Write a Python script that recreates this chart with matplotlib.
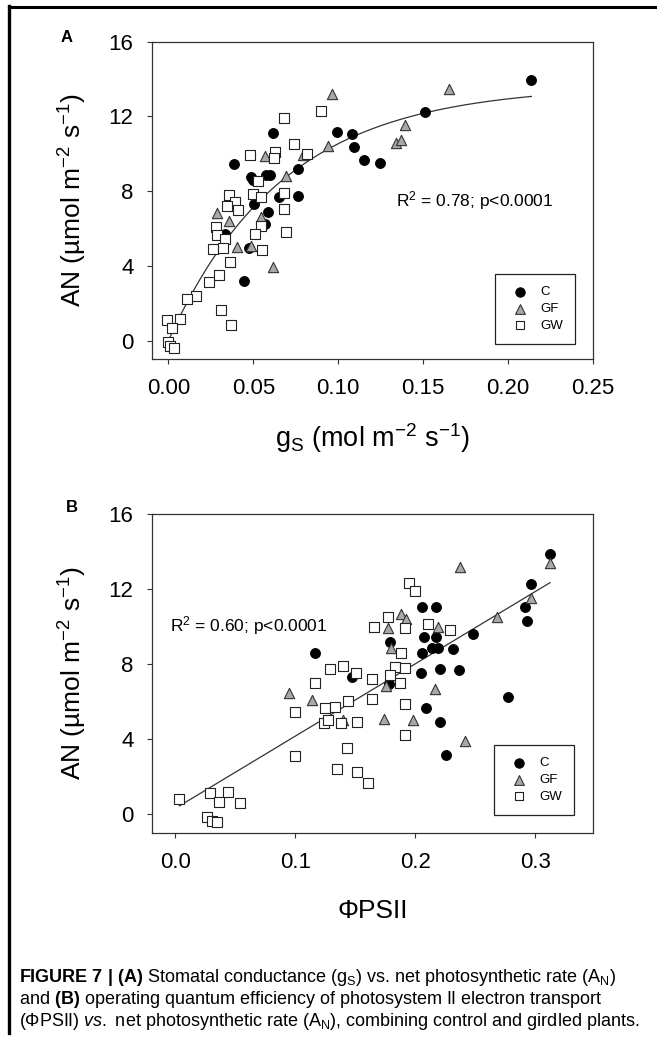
import matplotlib as mpl
mpl.use("Agg")
import matplotlib.pyplot as plt
from matplotlib.lines import Line2D
import numpy as np

mpl.rcParams.update({
    "font.family": ["Liberation Sans", "DejaVu Sans"],
    "mathtext.fontset": "custom",
    "mathtext.rm": "Liberation Sans",
    "mathtext.it": "Liberation Sans:italic",
    "mathtext.bf": "Liberation Sans:bold",
    "mathtext.default": "rm",
})

# ---- Panel A data: gs vs AN ----
gs_c = [0.0388, 0.0613, 0.0485, 0.0500, 0.0575, 0.0600, 0.0760, 0.0760, 0.0650, 0.0504,
        0.0588, 0.0569, 0.0333, 0.0476, 0.0445, 0.0995, 0.1080, 0.1090, 0.1150, 0.1245,
        0.1513, 0.2137]
an_c = [9.45, 11.10, 8.75, 8.60, 8.85, 8.85, 9.20, 7.76, 7.70, 7.30,
        6.90, 6.25, 5.70, 4.95, 3.17, 11.15, 11.08, 10.35, 9.67, 9.50,
        12.25, 13.94]

gs_gf = [0.0961, 0.0567, 0.0790, 0.0937, 0.0692, 0.0288, 0.0355, 0.0547, 0.0402, 0.0486,
         0.0614, 0.1340, 0.1370, 0.1390, 0.1653]
an_gf = [13.20, 9.90, 9.92, 10.40, 8.82, 6.85, 6.42, 6.64, 5.04, 5.09,
         3.93, 10.60, 10.75, 11.55, 13.46]

gs_gw = [0.0680, 0.0898, 0.0480, 0.0627, 0.0623, 0.0739, 0.0814, 0.0525, 0.0355, 0.0499,
         0.0545, 0.0392, 0.0343, 0.0407, 0.0680, 0.0680, 0.0690, 0.0280, 0.0284, 0.0333,
         0.0260, 0.0320, 0.0543, 0.0507, 0.0551, 0.0362, 0.0300, 0.0237, 0.0164, 0.0111,
         0.0307, 0.0368, -0.0010, 0.0068, 0.0020, 0.0000, 0.0010, 0.0034]
an_gw = [11.92, 12.30, 9.93, 10.10, 9.77, 10.52, 10.00, 8.56, 7.80, 7.85,
         7.70, 7.44, 7.20, 7.00, 7.90, 7.05, 5.84, 6.07, 5.68, 5.45,
         4.91, 4.95, 6.12, 5.71, 4.86, 4.20, 3.54, 3.13, 2.38, 2.24,
         1.67, 0.82, 1.09, 1.14, 0.68, -0.04, -0.30, -0.40]

# ---- Panel B data: PhiPSII vs AN ----
phi_c = [0.3120, 0.2965, 0.2910, 0.2930, 0.2480, 0.2054, 0.2170, 0.2070, 0.2170, 0.2140,
         0.2187, 0.2054, 0.2310, 0.2360, 0.2204, 0.2047, 0.1786, 0.1168, 0.1472, 0.1780,
         0.2773, 0.2093, 0.2204, 0.2257]
an_c_b = [13.89, 12.26, 11.07, 10.30, 9.61, 11.07, 11.03, 9.47, 9.47, 8.85,
          8.88, 8.61, 8.79, 7.69, 7.74, 7.51, 9.20, 8.61, 7.30, 6.93,
          6.23, 5.65, 4.90, 3.16]

phi_gf = [0.3122, 0.2370, 0.2965, 0.2680, 0.1880, 0.1920, 0.1775, 0.2187, 0.1796, 0.1758,
          0.2160, 0.0949, 0.1140, 0.1740, 0.1980, 0.1395, 0.2414]
an_gf_b = [13.37, 13.20, 11.50, 10.53, 10.67, 10.39, 9.95, 9.96, 8.85, 6.84,
           6.66, 6.45, 6.09, 5.08, 5.03, 5.02, 3.93]

phi_gw = [0.1950, 0.1995, 0.1775, 0.1657, 0.1915, 0.2107, 0.2285, 0.1880, 0.1828, 0.1915,
          0.1786, 0.1873, 0.1640, 0.1636, 0.1915, 0.1918, 0.1290, 0.1395, 0.1507, 0.1168,
          0.1437, 0.1252, 0.1332, 0.1001, 0.1238, 0.1270, 0.1385, 0.1514, 0.1427, 0.0994,
          0.1350, 0.1514, 0.1604, 0.0035, 0.0286, 0.0443, 0.0363, 0.0537, 0.0262, 0.0303,
          0.0349]
an_gw_b = [12.31, 11.90, 10.53, 10.00, 9.95, 10.12, 9.82, 8.58, 7.83, 7.78,
           7.42, 7.02, 7.19, 6.13, 5.86, 4.23, 7.73, 7.90, 7.51, 6.98,
           6.06, 5.65, 5.70, 5.44, 4.88, 5.00, 4.88, 4.94, 3.55, 3.13,
           2.40, 2.24, 1.69, 0.82, 1.12, 1.17, 0.67, 0.62, -0.12, -0.36,
           -0.39]

groups = ["C", "GF", "GW"]
r2_a = "R$^2$ = 0.78; p<0.0001"
r2_b = "R$^2$ = 0.60; p<0.0001"

W, H = 657, 1041
fig = plt.figure(figsize=(W / 100, H / 100), dpi=100)


def px_axes(left, top, right, bottom):
    return fig.add_axes([left / W, 1 - bottom / H, (right - left) / W, (bottom - top) / H])


def style_axes(ax):
    for s in ax.spines.values():
        s.set_color("#333333")
        s.set_linewidth(0.9)
    ax.tick_params(direction="out", length=3.8, width=0.8, color="#333333",
                   labelsize=16, pad=9.5)


def draw_groups(ax, xs, ys):
    ax.scatter(xs[0], ys[0], s=7.2 ** 2, marker="o", c="black", edgecolors="black",
               linewidths=0.6, zorder=3, label=groups[0])
    ax.scatter(xs[1], ys[1], s=7.4 ** 2, marker="^", c="#a8a8a8", edgecolors="#333333",
               linewidths=0.8, zorder=3, label=groups[1])
    ax.scatter(xs[2], ys[2], s=6.6 ** 2, marker="s", c="white", edgecolors="#222222",
               linewidths=0.8, zorder=3, label=groups[2])


def add_legend(ax, x0, y0):
    leg = ax.legend(loc="upper left", bbox_to_anchor=(x0, y0), borderaxespad=0,
                    fontsize=9.5, frameon=True, fancybox=False, edgecolor="#222222",
                    framealpha=1, borderpad=0.9, labelspacing=0.35, handletextpad=0.6,
                    handlelength=1.9, markerscale=0.95)
    leg.get_frame().set_linewidth(0.9)


# ---- Panel A ----
axA = px_axes(152, 41.5, 593, 359.3)
style_axes(axA)
draw_groups(axA, [gs_c, gs_gf, gs_gw], [an_c, an_gf, an_gw])

# exponential rise to maximum, fitted to all points: y = y0 + a(1 - exp(-b x))
gx = np.array(gs_c + gs_gf + gs_gw)
gy = np.array(an_c + an_gf + an_gw)
best = None
for b in np.linspace(2, 60, 581):
    M = np.column_stack([np.ones_like(gx), 1 - np.exp(-b * gx)])
    coef, _, _, _ = np.linalg.lstsq(M, gy, rcond=None)
    sse = np.sum((M @ coef - gy) ** 2)
    if best is None or sse < best[0]:
        best = (sse, b, coef)
_, b_fit, (y0_fit, a_fit) = best
xc = np.linspace(gx.min(), gx.max(), 200)
axA.plot(xc, y0_fit + a_fit * (1 - np.exp(-b_fit * xc)), color="#333333", lw=0.9, zorder=2)

axA.set_xlim(-0.0097, 0.25)
axA.set_ylim(-0.99, 16)
axA.set_xticks([0.00, 0.05, 0.10, 0.15, 0.20, 0.25])
axA.set_xticklabels(["0.00", "0.05", "0.10", "0.15", "0.20", "0.25"])
axA.set_yticks([0, 4, 8, 12, 16])
axA.set_xlabel("g$_{\\rm S}$ (mol m$^{-2}$ s$^{-1}$)", fontsize=19.5, labelpad=16)
axA.set_ylabel("AN (µmol m$^{-2}$ s$^{-1}$)", fontsize=19, labelpad=14)
axA.text(0.553, 0.482, r2_a, transform=axA.transAxes, fontsize=12.5, va="baseline")
add_legend(axA, 0.778, 0.268)

# ---- Panel B ----
axB = px_axes(152, 514, 593, 833.3)
style_axes(axB)
draw_groups(axB, [phi_c, phi_gf, phi_gw], [an_c_b, an_gf_b, an_gw_b])

px_all = np.array(phi_c + phi_gf + phi_gw)
py_all = np.array(an_c_b + an_gf_b + an_gw_b)
slope, icpt = np.polyfit(px_all, py_all, 1)
xl = np.array([px_all.min(), px_all.max()])
axB.plot(xl, slope * xl + icpt, color="#333333", lw=0.9, zorder=2)

axB.set_xlim(-0.0193, 0.348)
axB.set_ylim(-1.01, 16)
axB.set_xticks([0.0, 0.1, 0.2, 0.3])
axB.set_xticklabels(["0.0", "0.1", "0.2", "0.3"])
axB.set_yticks([0, 4, 8, 12, 16])
axB.set_xlabel("ΦPSII", fontsize=19, labelpad=19)
axB.set_ylabel("AN (µmol m$^{-2}$ s$^{-1}$)", fontsize=19, labelpad=14)
axB.text(0.041, 0.631, r2_b, transform=axB.transAxes, fontsize=12.5, va="baseline")
add_legend(axB, 0.776, 0.2765)

# panel letters
fig.text(66.5 / W, 1 - 38 / H, "A", fontsize=12, fontweight="bold", ha="center", va="center")
fig.text(72 / W, 1 - 507 / H, "B", fontsize=12, fontweight="bold", ha="center", va="center")

# frame lines (top and left)
fig.add_artist(Line2D([9 / W, 1], [1 - 7.3 / H, 1 - 7.3 / H], color="black", lw=2.2,
                      transform=fig.transFigure))
fig.add_artist(Line2D([9 / W, 9 / W], [1 - 1033 / H, 1 - 6.2 / H], color="black", lw=2.4,
                      transform=fig.transFigure))

# caption
cap = [
    r"$\mathbf{FIGURE\ 7\ |\ (A)}$ Stomatal conductance (g$_{\rm S}$) vs. net photosynthetic rate (A$_{\rm N}$)",
    r"and $\mathbf{(B)}$ operating quantum efficiency of photosystem II electron transport",
    r"(ΦPSII) $\mathit{vs.}$ net photosynthetic rate (A$_{\rm N}$), combining control and girdled plants.",
]
for line, yb in zip(cap, [982, 1004, 1026]):
    fig.text(19 / W, 1 - yb / H, line, fontsize=13, va="baseline", ha="left")

fig.savefig("out.png", dpi=100)
